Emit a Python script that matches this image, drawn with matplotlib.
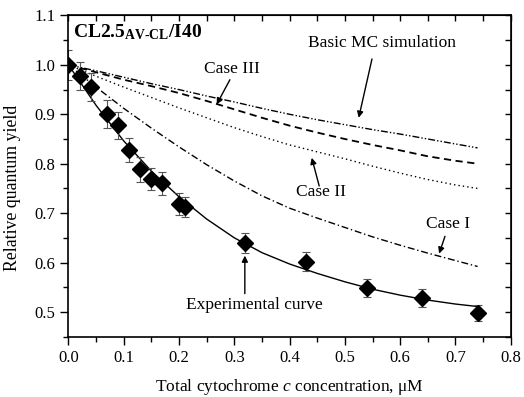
import matplotlib
matplotlib.use('Agg')
import matplotlib.pyplot as plt
from matplotlib.ticker import MultipleLocator

plt.rcParams['font.family'] = ['Liberation Serif', 'DejaVu Serif']
plt.rcParams['mathtext.fontset'] = 'custom'
plt.rcParams['mathtext.rm'] = 'Liberation Serif'
plt.rcParams['mathtext.it'] = 'Liberation Serif:italic'
plt.rcParams['mathtext.bf'] = 'Liberation Serif:bold'

# experimental points
conc = [0.0, 0.02, 0.04, 0.07, 0.09, 0.11, 0.13, 0.15, 0.17, 0.20, 0.21,
        0.32, 0.43, 0.54, 0.64, 0.74]
qy = [1.0, 0.978, 0.955, 0.901, 0.878, 0.828, 0.789, 0.769, 0.760, 0.718,
      0.712, 0.640, 0.602, 0.548, 0.528, 0.498]
qy_err = [0.03, 0.028, 0.028, 0.028, 0.027, 0.025, 0.025, 0.023, 0.023,
          0.022, 0.02, 0.02, 0.02, 0.018, 0.018, 0.017]

# fitted experimental curve
fit_x = [0.0, 0.05, 0.1, 0.15, 0.2, 0.25, 0.3, 0.35, 0.4, 0.45, 0.5, 0.55,
         0.6, 0.65, 0.7, 0.74]
fit_y = [1.0, 0.918, 0.846, 0.785, 0.733, 0.688, 0.650, 0.620, 0.597, 0.578,
         0.561, 0.546, 0.534, 0.524, 0.516, 0.511]

# simulation curves
sim_x = [0.0, 0.05, 0.1, 0.15, 0.2, 0.25, 0.3, 0.35, 0.4, 0.45, 0.5, 0.55,
         0.6, 0.65, 0.7, 0.74]
case3 = [1.0, 0.988, 0.975, 0.962, 0.950, 0.937, 0.925, 0.912, 0.900, 0.889,
         0.879, 0.869, 0.860, 0.850, 0.840, 0.832]
basic_mc = [1.0, 0.985, 0.970, 0.957, 0.943, 0.927, 0.910, 0.893, 0.877, 0.863,
            0.850, 0.838, 0.827, 0.815, 0.806, 0.800]
case2 = [1.0, 0.977, 0.955, 0.934, 0.913, 0.893, 0.873, 0.855, 0.838, 0.824,
         0.810, 0.795, 0.781, 0.768, 0.757, 0.750]
case1 = [1.0, 0.955, 0.912, 0.872, 0.834, 0.798, 0.765, 0.735, 0.710, 0.690,
         0.671, 0.652, 0.635, 0.619, 0.604, 0.592]

fig = plt.figure(figsize=(5.24, 3.97), dpi=100)
ax = fig.add_axes([0.1307, 0.152, 0.844, 0.809])

ax.plot(sim_x, case3, color='black', lw=1, ls=(0, (5, 1.5, 1, 1.5, 1, 1.5)))
ax.plot(sim_x, basic_mc, color='black', lw=1.3, ls=(0, (4, 2.5)))
ax.plot(sim_x, case2, color='black', lw=1, ls=(0, (1, 2.2)))
ax.plot(sim_x, case1, color='black', lw=1, ls=(0, (5, 2, 1, 2)))
ax.plot(fit_x, fit_y, color='black', lw=1)
ax.errorbar(conc, qy, yerr=qy_err, fmt='D', color='black', ms=8,
            ecolor='#555555', elinewidth=0.8, capsize=3, capthick=0.8)

ax.set_xlim(0.0, 0.8)
ax.set_ylim(0.45, 1.1)
ax.xaxis.set_minor_locator(MultipleLocator(0.05))
ax.yaxis.set_minor_locator(MultipleLocator(0.05))
ax.set_xticks([0.0, 0.1, 0.2, 0.3, 0.4, 0.5, 0.6, 0.7, 0.8])
ax.set_xticklabels(['0.0', '0.1', '0.2', '0.3', '0.4', '0.5', '0.6', '0.7', '0.8'])
ax.set_yticks([0.5, 0.6, 0.7, 0.8, 0.9, 1.0, 1.1])
ax.set_yticklabels(['0.5', '0.6', '0.7', '0.8', '0.9', '1.0', '1.1'])
ax.tick_params(which='major', direction='out', length=6, width=1, labelsize=12)
ax.tick_params(which='minor', direction='out', length=3.5, width=1)
for sp in ax.spines.values():
    sp.set_linewidth(1.2)

# inward ticks on top and right
top = ax.secondary_xaxis('top')
top.xaxis.set_major_locator(MultipleLocator(0.05))
top.tick_params(direction='in', length=4, width=1, labeltop=False)
right = ax.secondary_yaxis('right')
right.yaxis.set_major_locator(MultipleLocator(0.05))
right.tick_params(direction='in', length=4, width=1, labelright=False)

ax.set_xlabel('Total cytochrome $c$ concentration, \u03bcM', fontsize=12.5, labelpad=8)
ax.set_ylabel('Relative quantum yield', fontsize=12.8)
ax.yaxis.set_label_coords(-0.107, 0.464)

ax.text(0.008, 1.086, r'$\mathbf{CL2.5}_{\mathbf{AV\text{-}CL}}\mathbf{/I40}$',
        fontsize=14, ha='left', va='top')

arrow = dict(arrowstyle='-|>', color='black', lw=1, mutation_scale=9,
             shrinkA=0, shrinkB=0)
ax.text(0.295, 0.991, 'Case III', fontsize=12.5, ha='center', va='center')
ax.annotate('', xy=(0.268, 0.92), xytext=(0.292, 0.970), arrowprops=arrow)
ax.text(0.567, 1.044, 'Basic MC simulation', fontsize=12.5, ha='center', va='center')
ax.annotate('', xy=(0.525, 0.893), xytext=(0.549, 1.012), arrowprops=arrow)
ax.text(0.456, 0.743, 'Case II', fontsize=12.5, ha='center', va='center')
ax.annotate('', xy=(0.44, 0.812), xytext=(0.4535, 0.755), arrowprops=arrow)
ax.text(0.687, 0.678, 'Case I', fontsize=12.5, ha='center', va='center')
ax.annotate('', xy=(0.6705, 0.618), xytext=(0.681, 0.653), arrowprops=arrow)
ax.text(0.337, 0.514, 'Experimental curve', fontsize=12.5, ha='center', va='center')
ax.annotate('', xy=(0.319, 0.614), xytext=(0.319, 0.537), arrowprops=arrow)

fig.savefig('out.png', dpi=100)
